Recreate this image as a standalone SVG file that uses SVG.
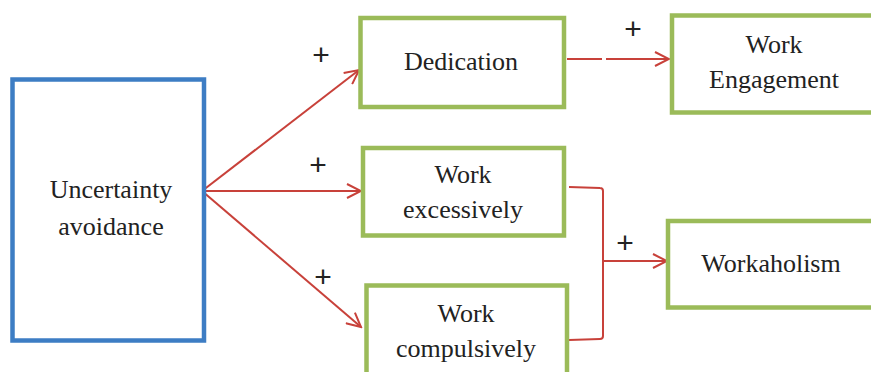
<svg xmlns="http://www.w3.org/2000/svg" width="871" height="372" viewBox="0 0 871 372">
<defs>
<marker id="ah" viewBox="-15 -8 17 16" refX="0" refY="0" markerWidth="17" markerHeight="16" markerUnits="userSpaceOnUse" orient="auto">
<path d="M-14,-7 L0,0 L-14,7" fill="none" stroke="#c8413a" stroke-width="2"/>
</marker>
</defs>
<rect width="871" height="372" fill="#fff"/>
<g id="connectors" fill="none" stroke="#c8413a" stroke-width="2">
<line x1="202" y1="191" x2="359" y2="70" marker-end="url(#ah)"/>
<line x1="202" y1="191" x2="361" y2="191" marker-end="url(#ah)"/>
<line x1="202" y1="191" x2="361" y2="327" marker-end="url(#ah)"/>
<line x1="567" y1="59" x2="602" y2="59"/>
<line x1="606" y1="59" x2="669" y2="59" marker-end="url(#ah)"/>
<path d="M569,187 L600,188 Q603,188 603,191 L603,336 Q603,339 600,339 L569,340"/>
<line x1="603" y1="261" x2="667" y2="261" marker-end="url(#ah)"/>
</g>
<g id="uncertainty">
<rect x="12.5" y="79.5" width="191.5" height="261" fill="#fff" stroke="#3d7dc4" stroke-width="4.5"/>
<text x="111" y="198" font-family="Liberation Serif" font-size="26" fill="#222" text-anchor="middle" style="font-family:'Liberation Serif','Times New Roman',serif !important">Uncertainty</text>
<text x="111" y="235" font-family="Liberation Serif" font-size="26" fill="#222" text-anchor="middle" style="font-family:'Liberation Serif','Times New Roman',serif !important">avoidance</text>
</g>
<g id="dedication">
<rect x="360.5" y="18" width="203.5" height="89" fill="#fff" stroke="#9bbb59" stroke-width="4.5"/>
<text x="461" y="70" font-family="Liberation Serif" font-size="26" fill="#222" text-anchor="middle" style="font-family:'Liberation Serif','Times New Roman',serif !important">Dedication</text>
</g>
<g id="work-excessively">
<rect x="363" y="148" width="201" height="87.5" fill="#fff" stroke="#9bbb59" stroke-width="4.5"/>
<text x="463" y="183" font-family="Liberation Serif" font-size="26" fill="#222" text-anchor="middle" style="font-family:'Liberation Serif','Times New Roman',serif !important">Work</text>
<text x="463" y="218" font-family="Liberation Serif" font-size="26" fill="#222" text-anchor="middle" style="font-family:'Liberation Serif','Times New Roman',serif !important">excessively</text>
</g>
<g id="work-compulsively">
<rect x="366.5" y="285.5" width="200.5" height="110" fill="#fff" stroke="#9bbb59" stroke-width="4.5"/>
<text x="466" y="322" font-family="Liberation Serif" font-size="26" fill="#222" text-anchor="middle" style="font-family:'Liberation Serif','Times New Roman',serif !important">Work</text>
<text x="466" y="357" font-family="Liberation Serif" font-size="26" fill="#222" text-anchor="middle" style="font-family:'Liberation Serif','Times New Roman',serif !important">compulsively</text>
</g>
<g id="work-engagement">
<rect x="672" y="15.5" width="220" height="97" fill="#fff" stroke="#9bbb59" stroke-width="4.5"/>
<text x="774" y="53" font-family="Liberation Serif" font-size="26" fill="#222" text-anchor="middle" style="font-family:'Liberation Serif','Times New Roman',serif !important">Work</text>
<text x="774" y="88" font-family="Liberation Serif" font-size="26" fill="#222" text-anchor="middle" style="font-family:'Liberation Serif','Times New Roman',serif !important">Engagement</text>
</g>
<g id="workaholism">
<rect x="668" y="221" width="220" height="86.5" fill="#fff" stroke="#9bbb59" stroke-width="4.5"/>
<text x="771" y="272" font-family="Liberation Serif" font-size="26" fill="#222" text-anchor="middle" style="font-family:'Liberation Serif','Times New Roman',serif !important">Workaholism</text>
</g>
<g id="labels">
<text x="321" y="65" font-family="Liberation Sans" font-size="30" fill="#222" text-anchor="middle">+</text>
<text x="318" y="175" font-family="Liberation Sans" font-size="30" fill="#222" text-anchor="middle">+</text>
<text x="323" y="287" font-family="Liberation Sans" font-size="30" fill="#222" text-anchor="middle">+</text>
<text x="633" y="39" font-family="Liberation Sans" font-size="30" fill="#222" text-anchor="middle">+</text>
<text x="625" y="253" font-family="Liberation Sans" font-size="30" fill="#222" text-anchor="middle">+</text>
</g>
</svg>
